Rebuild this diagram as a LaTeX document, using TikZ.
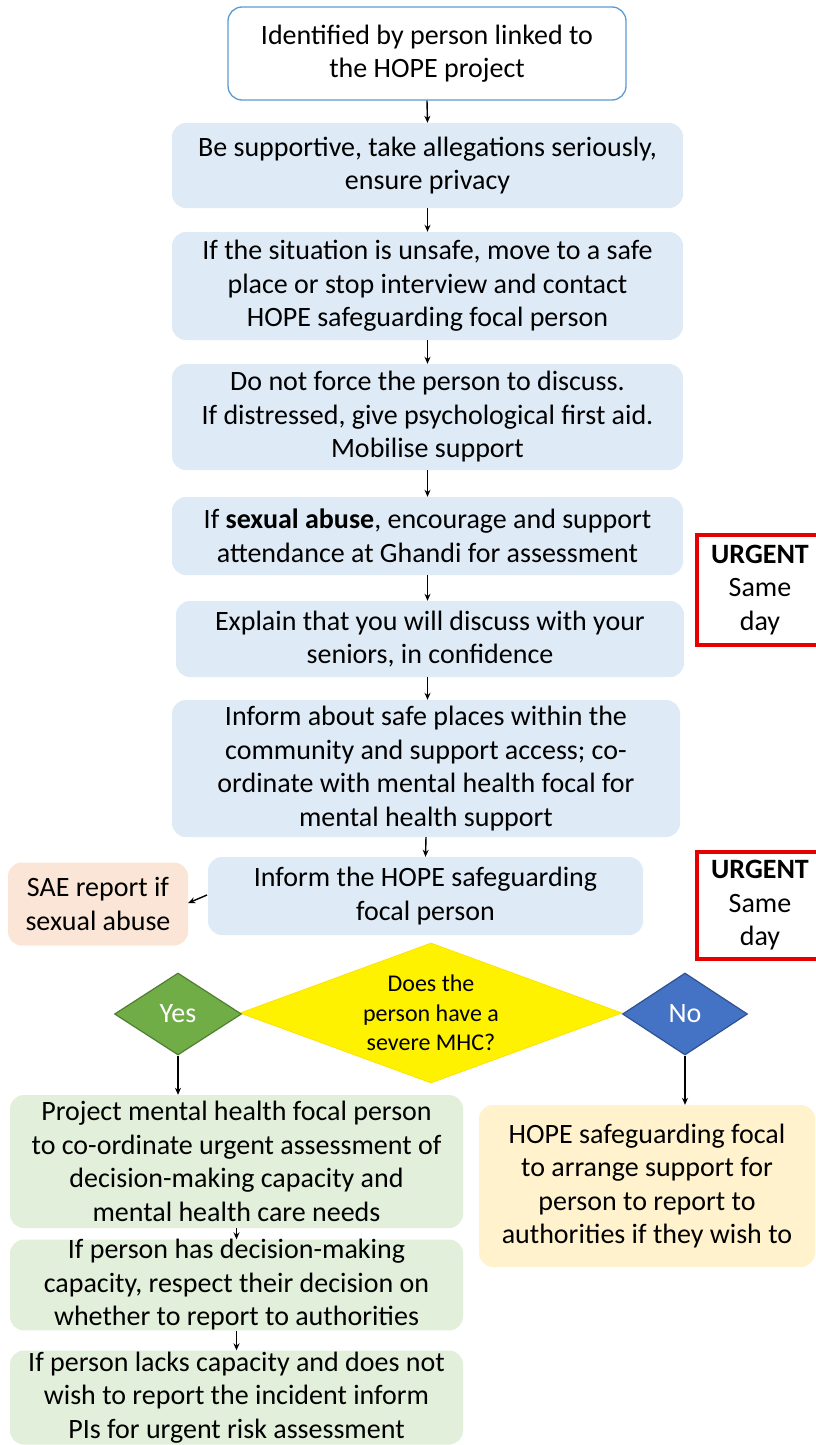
\documentclass[tikz,border=0pt]{standalone}
\usepackage{fontspec}
\setmainfont{Carlito}
\usetikzlibrary{shapes.geometric,arrows.meta}
\definecolor{boxblue}{RGB}{222,234,246}
\definecolor{edgeblue}{RGB}{91,155,213}
\definecolor{boxgreen}{RGB}{226,239,218}
\definecolor{boxpeach}{RGB}{251,229,214}
\definecolor{boxcream}{RGB}{255,242,204}
\definecolor{urgred}{RGB}{230,0,0}
\definecolor{dgreen}{RGB}{112,173,71}
\definecolor{dgreenedge}{RGB}{80,126,50}
\definecolor{dblue}{RGB}{68,114,196}
\definecolor{dblueedge}{RGB}{47,82,143}
\tikzset{
  base/.style={rounded corners=14pt, inner sep=0pt, align=center,
    font=\fontsize{28}{33.5}\selectfont},
  stepbox/.style={base, fill=boxblue},
  startbox/.style={base, fill=white, draw=edgeblue, line width=1.3pt},
  greenbox/.style={base, fill=boxgreen},
  peachbox/.style={base, fill=boxpeach},
  creambox/.style={base, fill=boxcream},
  urgbox/.style={inner sep=0pt, align=center,
    font=\fontsize{28}{33.5}\selectfont},
  urgframe/.style={draw=urgred, line width=3.5pt},
  arr/.style={-{Stealth[length=7pt,width=6pt]}, line width=1.4pt, black},
  smalldia/.style={diamond, inner sep=0pt, font=\fontsize{28}{30}\selectfont,
    text=white, line width=1.2pt},
}
\begin{document}
\begin{tikzpicture}[x=1pt,y=-1pt]
\useasboundingbox (0,0) rectangle (816,1445);
\fill[white] (0,0) rectangle (816,1445);

\node[startbox, minimum width=398pt, minimum height=93pt] (b1) at (427,53.5)
  {Identified by person linked to\\the HOPE project};
\node[stepbox, minimum width=511pt, minimum height=85pt] (b2) at (427.5,165.5)
  {Be supportive, take allegations seriously,\\ensure privacy};
\node[stepbox, minimum width=511pt, minimum height=108pt] (b3) at (427.5,286)
  {If the situation is unsafe, move to a safe\\place or stop interview and contact\\HOPE safeguarding focal person};
\node[stepbox, minimum width=511pt, minimum height=106pt] (b4) at (427.5,417)
  {Do not force the person to discuss.\\If distressed, give psychological first aid.\\Mobilise support};
\node[stepbox, minimum width=511pt, minimum height=78pt] (b5) at (427.5,536)
  {If \textbf{sexual abuse}, encourage and support\\attendance at Ghandi for assessment};
\node[stepbox, minimum width=508pt, minimum height=76pt] (b6) at (430,639)
  {Explain that you will discuss with your\\seniors, in confidence};
\node[stepbox, minimum width=508pt, minimum height=137pt] (b7) at (426,768.5)
  {Inform about safe places within the\\community and support access; co-\\ordinate with mental health focal for\\mental health support};
\node[stepbox, minimum width=435pt, minimum height=78pt] (b8) at (425.5,896)
  {Inform the HOPE safeguarding\\focal person};
\node[peachbox, minimum width=180pt, minimum height=83pt] (sae) at (98,904)
  {SAE report if\\sexual abuse};

\node[urgbox, minimum width=126pt, minimum height=110pt] (u1) at (760,590)
  {\textbf{URGENT}\\Same\\day};
\draw[urgframe] ([xshift=40pt]u1.north east) -- (u1.north west) -- (u1.south west) -- ([xshift=40pt]u1.south east);
\node[urgbox, minimum width=126pt, minimum height=107pt] (u2) at (760,905.5)
  {\textbf{URGENT}\\Same\\day};
\draw[urgframe] ([xshift=40pt]u2.north east) -- (u2.north west) -- (u2.south west) -- ([xshift=40pt]u2.south east);

\node[diamond, fill=yellow, draw=yellow!85!orange, line width=0.8pt, inner sep=0pt,
  aspect=2.73, minimum width=382pt, minimum height=140pt, align=center,
  font=\fontsize{24}{29.5}\selectfont] (q) at (431,1013)
  {Does the\\person have a\\severe MHC?};
\node[smalldia, fill=dgreen, draw=dgreenedge, minimum width=127pt, minimum height=82pt] (yes) at (178,1014) {Yes};
\node[smalldia, fill=dblue, draw=dblueedge, minimum width=125pt, minimum height=82pt] (no) at (685,1014) {No};

\node[greenbox, minimum width=453pt, minimum height=133pt] (g1) at (236.5,1161.5)
  {Project mental health focal person\\to co-ordinate urgent assessment of\\decision-making capacity and\\mental health care needs};
\node[greenbox, minimum width=453pt, minimum height=90pt] (g2) at (236.5,1285)
  {If person has decision-making\\capacity, respect their decision on\\whether to report to authorities};
\node[greenbox, minimum width=453pt, minimum height=94pt] (g3) at (236.5,1397.5)
  {If person lacks capacity and does not\\wish to report the incident inform\\PIs for urgent risk assessment};
\node[creambox, minimum width=336pt, minimum height=162pt] (h) at (647,1186)
  {HOPE safeguarding focal\\to arrange support for\\person to report to\\authorities if they wish to};

\draw[arr] (b1.south) -- (b2.north);
\draw[arr] (b2.south) -- (b3.north);
\draw[arr] (b3.south) -- (b4.north);
\draw[arr] (b4.south) -- (b5.north);
\draw[arr] (b5.south) -- (b6.north -| b5.south);
\draw[arr] (b6.south -| b5.south) -- (b7.north -| b5.south);
\draw[arr] (b7.south) -- (b8.north);
\coordinate (saeA) at (207,895);
\draw[arr] (saeA) -- (sae.east |- 0,903);
\draw[arr] (yes.south) -- (yes.south |- g1.north);
\draw[arr] (no.south) -- (no.south |- h.north);
\draw[arr] (g1.south) -- (g2.north);
\draw[arr] (g2.south) -- (g3.north);
\end{tikzpicture}
\end{document}
